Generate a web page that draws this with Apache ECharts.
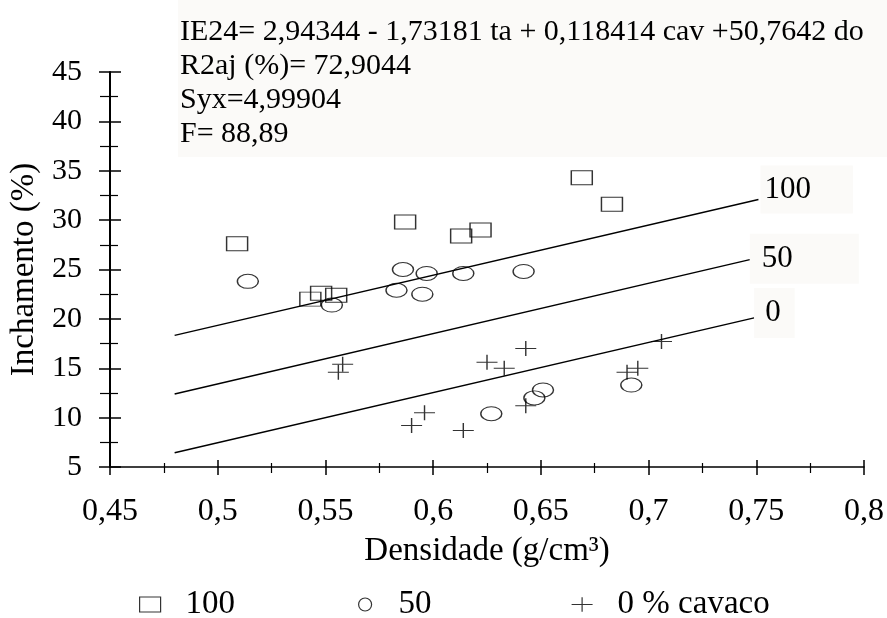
<!DOCTYPE html>
<html>
<head>
<meta charset="utf-8">
<script src="https://cdn.jsdelivr.net/npm/echarts@6/dist/echarts.min.js"></script>
<style>
html, body { margin: 0; padding: 0; background: #fff; }
#chart { width: 887px; height: 618px; }
</style>
</head>
<body>
<div id="chart"></div>
<script>
// pontos: [densidade, inchamento]
const cavaco100 = [
  [0.509, 27.6], [0.543, 22.0], [0.548, 22.6], [0.555, 22.4], [0.587, 29.8],
  [0.613, 28.4], [0.622, 29.0], [0.669, 34.3], [0.683, 31.6]
];
const cavaco50 = [
  [0.514, 23.8], [0.553, 21.4], [0.583, 22.9], [0.586, 25.0], [0.595, 22.5],
  [0.597, 24.6], [0.614, 24.6], [0.642, 24.8], [0.627, 10.4], [0.647, 12.0],
  [0.651, 12.8], [0.692, 13.3]
];
const cavaco0 = [
  [0.556, 14.6], [0.558, 15.4], [0.590, 9.2], [0.596, 10.5], [0.614, 8.7],
  [0.625, 15.6], [0.633, 15.0], [0.643, 17.0], [0.643, 11.2], [0.690, 14.6],
  [0.695, 15.0], [0.706, 17.7]
];
// retas do modelo (extremos)
const reta100X = [0.48, 0.751];
const reta100Y = [18.33, 32.08];
const reta50X = [0.48, 0.747];
const reta50Y = [12.39, 26.0];
const reta0X = [0.48, 0.749];
const reta0Y = [6.45, 20.1];

const eixoX = { min: 0.45, max: 0.8, step: 0.05 };
const eixoY = { min: 5, max: 45, step: 5 };

const anotacao = [
  'IE24= 2,94344 - 1,73181 ta + 0,118414 cav +50,7642 do',
  'R2aj (%)= 72,9044',
  'Syx=4,99904',
  'F= 88,89'
];

const FONTE = '"Liberation Serif", "Times New Roman", serif';
const PRETO = '#000';
const FUNDO = '#fbfaf8';

function pares(xs, ys) {
  return xs.map((x, i) => [x, ys[i]]);
}

const chart = echarts.init(document.getElementById('chart'));

const simboloMais = 'path://M0,7L20,7M10,0L10,14';

function eixoXBase(fora) {
  return {
    type: 'value',
    position: 'bottom',
    min: eixoX.min,
    max: eixoX.max,
    interval: eixoX.step,
    splitLine: { show: false },
    axisLine: { show: fora, lineStyle: { color: PRETO, width: 1.6 } },
    axisTick: { show: true, inside: !fora, length: fora ? 8 : 7, lineStyle: { color: PRETO, width: 1.5 } },
    minorTick: { show: true, splitNumber: 2, length: fora ? 6 : 4, lineStyle: { color: PRETO, width: 1.2 } },
    minorSplitLine: { show: false },
    axisLabel: {
      show: fora,
      color: PRETO,
      fontFamily: FONTE,
      fontSize: 32,
      margin: 29,
      formatter: v => String(+v.toFixed(2)).replace('.', ',')
    }
  };
}

function eixoYBase(fora) {
  return {
    type: 'value',
    position: 'left',
    min: eixoY.min,
    max: eixoY.max,
    interval: eixoY.step,
    splitLine: { show: false },
    axisLine: { show: fora, lineStyle: { color: PRETO, width: 2 } },
    axisTick: { show: true, inside: !fora, length: 11, lineStyle: { color: PRETO, width: 1.5 } },
    minorTick: { show: true, splitNumber: 2, length: fora ? 10 : 8, lineStyle: { color: PRETO, width: 1.2 } },
    minorSplitLine: { show: false },
    axisLabel: { show: fora, color: PRETO, fontFamily: FONTE, fontSize: 30, margin: 28 }
  };
}

const xPrincipal = eixoXBase(true);
xPrincipal.name = 'Densidade (g/cm³)';
xPrincipal.nameLocation = 'middle';
xPrincipal.nameGap = 68;
xPrincipal.nameTextStyle = { color: PRETO, fontFamily: FONTE, fontSize: 33 };

const yPrincipal = eixoYBase(true);
yPrincipal.name = 'Inchamento (%)';
yPrincipal.nameLocation = 'middle';
yPrincipal.nameGap = 62;
yPrincipal.nameTextStyle = { color: PRETO, fontFamily: FONTE, fontSize: 33 };

// nome da série diferente do da legenda, rótulo vem do formatter
function reta(rotuloTexto, xs, ys, rotulo) {
  return {
    name: 'reta ' + rotuloTexto,
    type: 'line',
    data: pares(xs, ys),
    showSymbol: false,
    silent: true,
    lineStyle: { color: PRETO, width: 1.5 },
    endLabel: Object.assign({
      show: true,
      formatter: rotuloTexto,
      color: PRETO,
      fontFamily: FONTE,
      fontSize: 31,
      backgroundColor: FUNDO
    }, rotulo)
  };
}

function pontos(nome, dados, simbolo, tamanho) {
  return {
    name: nome,
    type: 'scatter',
    data: dados,
    symbol: simbolo,
    symbolSize: tamanho,
    itemStyle: { color: 'rgba(0,0,0,0)', borderColor: PRETO, borderWidth: 1.2 }
  };
}

function legenda(nome, esquerda, w, h, gap) {
  return {
    data: [nome],
    left: esquerda,
    top: 588,
    padding: 0,
    selectedMode: false,
    itemWidth: w,
    itemHeight: h,
    itemStyle: { color: 'rgba(0,0,0,0)', borderColor: PRETO, borderWidth: 1.2 },
    textStyle: { color: PRETO, fontFamily: FONTE, fontSize: 33, padding: [0, 0, 0, gap] }
  };
}

const option = {
  animation: false,
  backgroundColor: '#fff',
  grid: { left: 110, right: 22, top: 72, bottom: 151 },
  xAxis: [xPrincipal, eixoXBase(false)],
  yAxis: [yPrincipal, eixoYBase(false)],
  legend: [
    legenda('100', 139, 21, 15, 20),
    legenda('50', 358, 19, 13, 19),
    legenda('0 % cavaco', 571, 21, 21, 20)
  ],
  graphic: [
    { type: 'rect', z: -10, shape: { x: 178, y: 0, width: 709, height: 157 }, style: { fill: FUNDO } },
    {
      type: 'text', x: 180, y: 15, z: 10,
      style: { text: anotacao.join('\n'), fill: PRETO, font: '30px ' + FONTE, lineHeight: 34 }
    }
  ],
  series: [
    reta('100', reta100X, reta100Y, { distance: 2, padding: [3, 42, 14, 4], offset: [0, -10] }),
    reta('50', reta50X, reta50Y, { distance: 0, padding: [3, 66, 16, 12], offset: [0, -1] }),
    reta('0', reta0X, reta0Y, { distance: 0, padding: [4, 14, 15, 11], offset: [0, -5] }),
    pontos('100', cavaco100, 'rect', [21, 14]),
    pontos('50', cavaco50, 'circle', [21, 14]),
    pontos('0 % cavaco', cavaco0, simboloMais, [21, 15])
  ]
};

chart.setOption(option);
</script>
</body>
</html>
